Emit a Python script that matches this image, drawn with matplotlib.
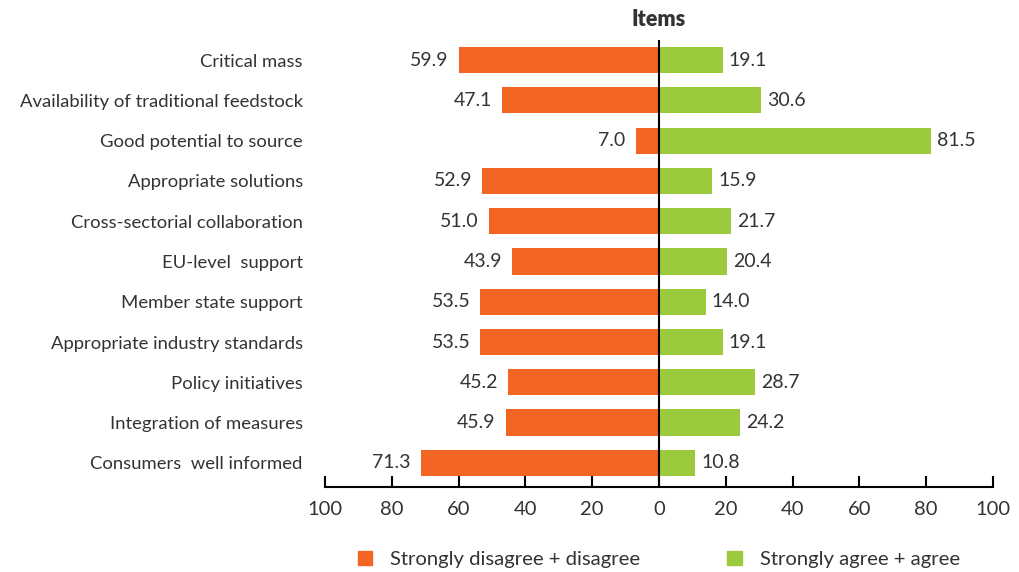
import matplotlib
matplotlib.use("Agg")
import matplotlib.pyplot as plt
from matplotlib.patches import Patch

categories = ["Critical mass", "Availability of traditional feedstock", "Good potential to source",
              "Appropriate solutions", "Cross-sectorial collaboration", "EU-level  support",
              "Member state support", "Appropriate industry standards", "Policy initiatives",
              "Integration of measures", "Consumers  well informed"]
disagree = [59.9, 47.1, 7.0, 52.9, 51.0, 43.9, 53.5, 53.5, 45.2, 45.9, 71.3]
agree = [19.1, 30.6, 81.5, 15.9, 21.7, 20.4, 14.0, 19.1, 28.7, 24.2, 10.8]
xticks = [-100, -80, -60, -40, -20, 0, 20, 40, 60, 80, 100]
xticklabels = ["100", "80", "60", "40", "20", "0", "20", "40", "60", "80", "100"]

orange = "#F26522"
green = "#9BCB3C"
txt = "#333333"
fs = 14

plt.rcParams['font.family'] = ['Lato', 'DejaVu Sans']

fig = plt.figure(figsize=(10.19, 5.72), dpi=100)
ax = fig.add_axes([325/1019, 1-487/572, (993-325)/1019, (487-40)/572])

y = list(range(len(categories)))
ax.barh(y, [-d for d in disagree], height=0.65, color=orange)
ax.barh(y, agree, height=0.65, color=green)
for yi, d, a in zip(y, disagree, agree):
    ax.text(-d - 3.0, yi, f"{d:.1f}", ha="right", va="center", fontsize=fs, color=txt)
    ax.text(a + 1.8, yi, f"{a:.1f}", ha="left", va="center", fontsize=fs, color=txt)

ax.set_xlim(-100, 100)
ax.set_ylim(10.6, -0.5)
ax.set_yticks(y)
ax.set_yticklabels(categories, fontsize=13.3, color=txt)
ax.tick_params(axis="y", length=0, pad=16)
ax.set_xticks(xticks)
ax.set_xticklabels(xticklabels, fontsize=14.5, color=txt)
ax.tick_params(axis="x", direction="in", length=8, width=1.5, pad=10)
for s in ["left", "top", "right"]:
    ax.spines[s].set_visible(False)
ax.spines["bottom"].set_linewidth(1.5)
ax.axvline(0, color="black", linewidth=1.5)
ax.set_title("Items", fontsize=15.5, fontweight="heavy", color=txt, pad=10)

handles = [Patch(color=orange, label="Strongly disagree + disagree"),
           Patch(color=green, label="Strongly agree + agree")]
fig.legend(handles=handles, loc="center", bbox_to_anchor=(0.6465, 0.022), ncol=2, frameon=False,
           fontsize=14.6, handlelength=0.7, handleheight=0.7, handletextpad=0.9, columnspacing=4.3,
           labelcolor=txt)

fig.savefig("out.png", dpi=100)
